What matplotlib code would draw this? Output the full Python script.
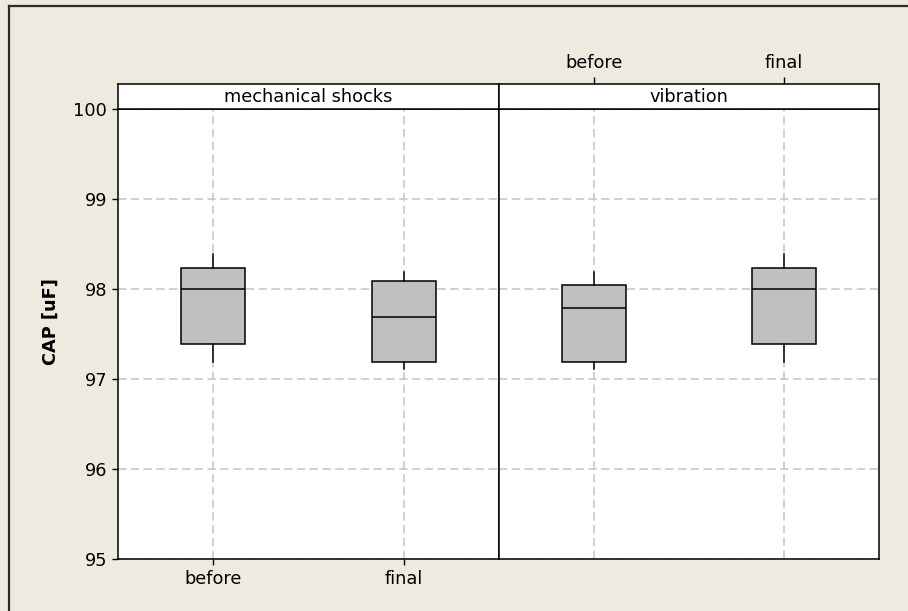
import matplotlib
matplotlib.use("Agg")
import matplotlib.pyplot as plt
from matplotlib.patches import Rectangle
from matplotlib.lines import Line2D

# data (CAP in uF)
groups = ['mechanical shocks', 'vibration']
conditions = ['before', 'final']
q1 = [[97.39, 97.19], [97.19, 97.39]]
med = [[98.00, 97.69], [97.79, 98.00]]
q3 = [[98.23, 98.09], [98.04, 98.23]]
whislo = [[97.19, 97.11], [97.11, 97.19]]
whishi = [[98.39, 98.19], [98.19, 98.39]]
yticks = [95, 96, 97, 98, 99, 100]

W, H = 908, 611
BG = '#eeeae0'
FS = 12.8

plt.rcParams['font.family'] = ['DejaVu Sans']
plt.rcParams['lines.scale_dashes'] = False

fig = plt.figure(figsize=(W / 100, H / 100), dpi=100, facecolor=BG)

# outer frame (only top and left edges are inside the picture)
fig.add_artist(Line2D([9 / W, 9 / W], [0, 1 - 6 / H], color='#2b2b2b', lw=1.6))
fig.add_artist(Line2D([9 / W, 1], [1 - 6 / H, 1 - 6 / H], color='#2b2b2b', lw=1.6))

def px(x0, y0, x1, y1):
    # pixel box (top-left origin) -> figure fraction rect
    return [x0 / W, 1 - y1 / H, (x1 - x0) / W, (y1 - y0) / H]

panels = [(118, 499), (499, 879)]
positions = [1, 2]

for i, (g, (xa, xb)) in enumerate(zip(groups, panels)):
    ax = fig.add_axes(px(xa, 109, xb, 559))
    ax.set_facecolor('white')
    stats = []
    for j, c in enumerate(conditions):
        stats.append(dict(label=c, med=med[i][j], q1=q1[i][j], q3=q3[i][j],
                          whislo=whislo[i][j], whishi=whishi[i][j], fliers=[]))
    ax.bxp(stats, positions=positions, widths=0.336, showcaps=False,
           showfliers=False, patch_artist=True,
           boxprops=dict(facecolor='#c0c0c0', edgecolor='black', lw=1.1),
           medianprops=dict(color='black', lw=1.1),
           whiskerprops=dict(color='black', lw=1.1))
    ax.set_xlim(0.5, 2.5)
    ax.set_ylim(95, 100)
    ax.set_yticks(yticks)
    ax.set_xticks(positions)
    ax.set_axisbelow(True)
    ax.grid(True, color='#c8c8c8', lw=1.2, linestyle=(0, (6, 3.2)))
    for s in ax.spines.values():
        s.set_linewidth(1.1)
        s.set_color('black')

    if i == 0:
        ax.set_xticklabels(conditions, fontsize=FS)
        ax.tick_params(axis='x', direction='out', length=4.2, width=1, pad=4)
        ax.tick_params(axis='y', direction='out', length=4.3, width=1, pad=3.5,
                       labelsize=FS)
    else:
        ax.tick_params(axis='x', length=0, labelbottom=False)
        ax.tick_params(axis='y', length=0, labelleft=False)

    # strip with panel title
    st = fig.add_axes(px(xa, 84, xb, 109))
    st.set_facecolor('white')
    st.set_xlim(0.5, 2.5)
    st.set_ylim(0, 1)
    st.set_yticks([])
    for s in st.spines.values():
        s.set_linewidth(1.1)
        s.set_color('black')
    st.text(0.5, 0.48, g, transform=st.transAxes, ha='center', va='center',
            fontsize=FS)
    if i == 1:
        st.set_xticks(positions)
        st.set_xticklabels(conditions, fontsize=FS)
        st.tick_params(axis='x', top=True, bottom=False, labeltop=True,
                       labelbottom=False, direction='out', length=5.2,
                       width=1, pad=3.5)
    else:
        st.set_xticks([])

fig.text(51 / W, 1 - 322 / H, 'CAP [uF]', rotation=90, ha='center',
         va='center', fontsize=FS, fontweight='bold')

fig.savefig('out.png', dpi=100, facecolor=BG)
